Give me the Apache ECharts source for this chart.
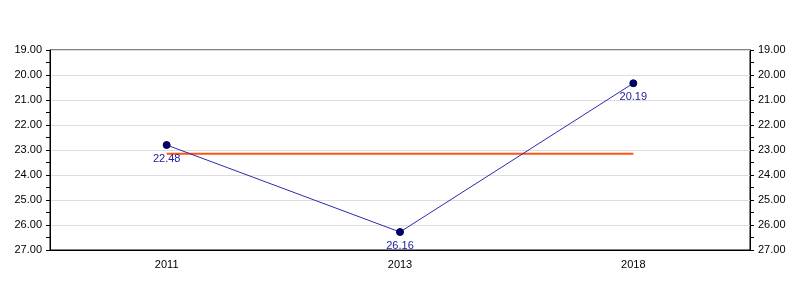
<!DOCTYPE html>
<html>
<head>
<meta charset="utf-8">
<style>
    html, body { margin: 0; padding: 0; background: #fff; }
    #chart { width: 800px; height: 300px; }
</style>
<script src="https://cdn.jsdelivr.net/npm/echarts@6/dist/echarts.min.js"></script>
</head>
<body>
<div id="chart"></div>
<script>

// Chart data
// ------------------------------

var years = ['2011', '2013', '2018'];

// Plotted positions
var values = [22.8, 26.28, 20.33];

// Point labels, as printed in the picture
var pointLabels = ['22.48', '26.16', '20.19'];

// Orange reference line
var refLine = [23.15, 23.15, 23.15];

// Vertical axis range
var yMin = 19;
var yMax = 27;
var yStep = 1;


// Setup chart
// ------------------------------

var chart_element = document.getElementById('chart');
var chart = echarts.init(chart_element);

// Shared vertical axis settings
var makeYAxis = function(position, showSplit) {
    return {
        type: 'value',
        position: position,
        inverse: true,
        min: yMin,
        max: yMax,
        interval: yStep,
        axisLine: {
            show: true,
            lineStyle: { color: '#000', width: 1 }
        },
        axisTick: {
            show: true,
            length: 4,
            lineStyle: { color: '#000' }
        },
        minorTick: {
            show: true,
            splitNumber: 2,
            length: 4,
            lineStyle: { color: '#000' }
        },
        axisLabel: {
            color: '#000',
            fontFamily: 'Liberation Sans, Arial, sans-serif',
            fontSize: 11,
            margin: 8,
            formatter: function(v) { return v.toFixed(2); }
        },
        splitLine: {
            show: showSplit,
            lineStyle: { color: '#dddddd', width: 1 }
        }
    };
};

chart.setOption({
    animation: false,

    // Setup grid
    grid: {
        left: 50,
        right: 50,
        top: 50,
        bottom: 50,
        show: true,
        borderColor: '#000',
        borderWidth: 1,
        backgroundColor: 'transparent'
    },

    // Horizontal axis
    xAxis: [{
        type: 'category',
        data: years,
        boundaryGap: true,
        axisLine: {
            lineStyle: { color: '#000', width: 1 }
        },
        axisTick: {
            alignWithLabel: true,
            length: 4,
            lineStyle: { color: '#000' }
        },
        axisLabel: {
            color: '#000',
            fontFamily: 'Liberation Sans, Arial, sans-serif',
            fontSize: 11,
            margin: 9
        },
        splitLine: { show: false }
    }],

    // Vertical axes
    yAxis: [makeYAxis('left', true), makeYAxis('right', false)],

    // Add series
    series: [
        {
            name: 'Reference',
            type: 'line',
            data: refLine,
            symbol: 'none',
            lineStyle: { color: '#ff5511', width: 2 },
            z: 2
        },
        {
            name: 'Value',
            type: 'line',
            data: values,
            symbol: 'circle',
            symbolSize: 7,
            lineStyle: { color: '#2a2ab0', width: 1 },
            itemStyle: {
                color: '#000080',
                borderColor: '#000030',
                borderWidth: 1
            },
            label: {
                show: true,
                position: 'bottom',
                distance: 4,
                color: '#2020a0',
                fontFamily: 'Liberation Sans, Arial, sans-serif',
                fontSize: 11,
                formatter: function(p) { return pointLabels[p.dataIndex]; }
            },
            z: 3
        }
    ]
});

</script>
</body>
</html>
